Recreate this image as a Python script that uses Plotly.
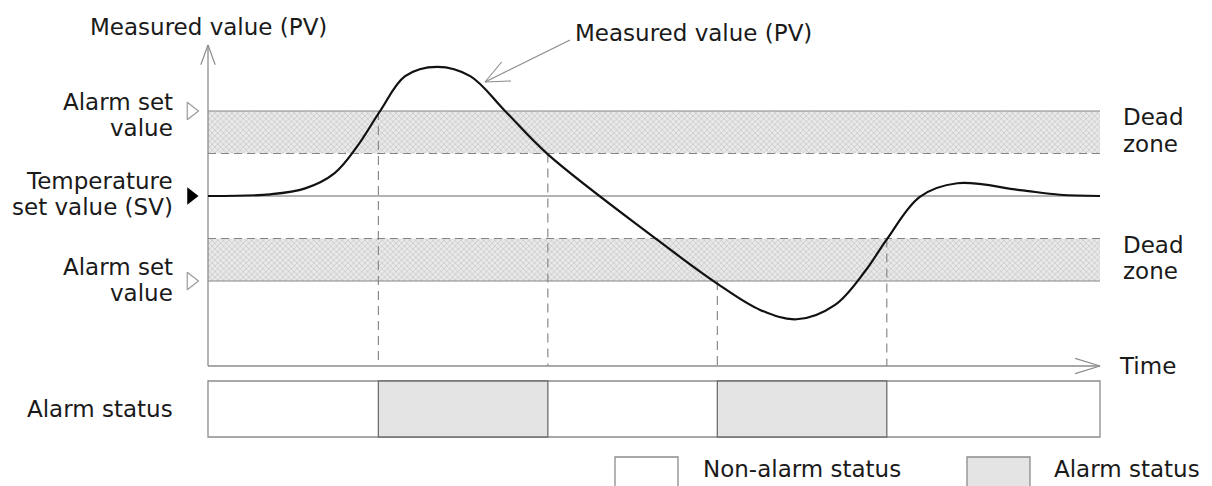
import math
import plotly.graph_objects as go

# ---------------- data ----------------
# time axis: arbitrary units 0..100 ; PV axis: SV = 0, alarm set values = +/-10
TIME = [0, 7.0, 10.9, 14.2, 16.7, 19.3, 22.1, 25.7, 29.4, 33.3, 38.1, 50.3, 56.8,
        61.9, 66.0, 70.3, 73.7, 76.1, 79.8, 84.0, 91.0, 95.5, 100]
PV = [0, 0.2, 0.9, 2.7, 5.8, 10.0, 14.1, 15.2, 14.1, 10.0, 4.9, -5.1, -10.1,
      -13.4, -14.5, -12.8, -8.8, -5.1, -0.1, 1.5, 0.7, 0.15, 0]

SV = 0
ALARM_HIGH = 10
ALARM_LOW = -10
DEAD_ZONE = 5
T_END = 100

ALARM_ON = [19.1, 57.1]       # times at which alarm switches on
ALARM_OFF = [38.1, 76.1]      # times at which alarm switches off
ALARM_ON_LEVEL = [10, -10]
ALARM_OFF_LEVEL = [5, -5]

# ---------------- geometry / style ----------------
W, H = 1212, 486
X0_PX, PX_PER_T = 208, 8.92
Y0_PX, PX_PER_V = 196, 8.5
XR = [(0 - X0_PX) / PX_PER_T, (W - X0_PX) / PX_PER_T]
YR = [(Y0_PX - H) / PX_PER_V, Y0_PX / PX_PER_V]


def px2t(px):
    return (px - X0_PX) / PX_PER_T


def py2v(py):
    return (Y0_PX - py) / PX_PER_V


TIME_AXIS_V = -20
Y_AXIS_TOP = py2v(45)
STATUS_TOP, STATUS_BOT = py2v(381), py2v(437)
LEG_TOP, LEG_BOT = py2v(457), py2v(500)

FONT = "DejaVu Sans"
FS = 23
GRID = "#8c8c8c"

fig = go.Figure()


def line(xs, ys, color=GRID, width=1.2, dash="solid"):
    fig.add_trace(go.Scatter(x=xs, y=ys, mode="lines", hoverinfo="skip",
                             line=dict(color=color, width=width, dash=dash),
                             showlegend=False))


def chevron(tip_t, tip_v, dir_dx, dir_dy, length, half_angle, color=GRID, width=1.2):
    # dir: pixel direction pointing from tip back along the shaft
    n = math.hypot(dir_dx, dir_dy)
    ux, uy = dir_dx / n, dir_dy / n
    pts_x, pts_y = [], []
    for s in (1, -1):
        a = math.radians(half_angle) * s
        rx = ux * math.cos(a) - uy * math.sin(a)
        ry = ux * math.sin(a) + uy * math.cos(a)
        pts_x.append(tip_t + rx * length / PX_PER_T)
        pts_y.append(tip_v - ry * length / PX_PER_V)
    line([pts_x[0], tip_t, pts_x[1]], [pts_y[0], tip_v, pts_y[1]], color=color, width=width)


# dead-zone bands (dotted texture)
for top, bot in [(ALARM_HIGH, ALARM_HIGH - DEAD_ZONE), (ALARM_LOW + DEAD_ZONE, ALARM_LOW)]:
    fig.add_trace(go.Scatter(x=[0, T_END, T_END, 0, 0], y=[top, top, bot, bot, top],
                             mode="lines", fill="toself", line=dict(width=0),
                             fillcolor="rgba(0,0,0,0)",
                             fillpattern=dict(shape="x", size=4, solidity=0.35,
                                              fgcolor="#a8a8a8", bgcolor="#e9e9e9"),
                             hoverinfo="skip", showlegend=False))

# band edges
line([0, T_END], [ALARM_HIGH, ALARM_HIGH], color="#858585", width=1.1)
line([0, T_END], [ALARM_HIGH - DEAD_ZONE] * 2, color="#858585", width=1.1, dash="8px,5px")
line([0, T_END], [ALARM_LOW + DEAD_ZONE] * 2, color="#858585", width=1.1, dash="8px,5px")
line([0, T_END], [ALARM_LOW, ALARM_LOW], color="#858585", width=1.1)

# SV line
line([0, T_END], [SV, SV], color="#b4b4b4", width=2)

# vertical dashed lines at switching instants
for t, lv in zip(ALARM_ON + ALARM_OFF, ALARM_ON_LEVEL + ALARM_OFF_LEVEL):
    line([t, t], [lv, TIME_AXIS_V], color="#808080", width=1.1, dash="9px,6px")

# axes
line([0, 0], [TIME_AXIS_V, Y_AXIS_TOP], color=GRID, width=1.3)
line([0, T_END], [TIME_AXIS_V, TIME_AXIS_V], color=GRID, width=1.3)
chevron(0, Y_AXIS_TOP, 0, 1, 21, 20)
chevron(T_END, TIME_AXIS_V, -1, 0, 26, 17)

# measured value curve
fig.add_trace(go.Scatter(x=TIME, y=PV, mode="lines", hoverinfo="skip",
                         line=dict(color="#111111", width=2.2, shape="spline", smoothing=1.0),
                         showlegend=False))

# callout arrow for PV
tip_t, tip_v = px2t(485), py2v(82)
tail_t, tail_v = px2t(570), py2v(40)
line([tail_t, tip_t], [tail_v, tip_v], color="#8a8a8a", width=1.1)
chevron(tip_t, tip_v, 85, -42, 26, 24, color="#8a8a8a", width=1.1)

# set value markers on the left
mk_t = px2t(191)
fig.add_trace(go.Scatter(x=[mk_t, mk_t], y=[ALARM_HIGH, ALARM_LOW], mode="markers",
                         marker=dict(symbol="triangle-right-open", size=15,
                                     color="#9a9a9a", line=dict(width=1.2, color="#9a9a9a")),
                         hoverinfo="skip", showlegend=False))
fig.add_trace(go.Scatter(x=[mk_t], y=[SV], mode="markers",
                         marker=dict(symbol="triangle-right", size=15, color="#000000"),
                         hoverinfo="skip", showlegend=False))

# alarm status strip
shapes = [dict(type="rect", x0=0, x1=T_END, y0=STATUS_BOT, y1=STATUS_TOP,
               line=dict(color="#8c8c8c", width=1.3), fillcolor="white", layer="below")]
for on, off in zip(ALARM_ON, ALARM_OFF):
    shapes.append(dict(type="rect", x0=on, x1=off, y0=STATUS_BOT, y1=STATUS_TOP,
                       line=dict(color="#6e6e6e", width=1.3), fillcolor="#e4e4e4"))
# legend swatches
shapes.append(dict(type="rect", x0=px2t(615), x1=px2t(678), y0=LEG_BOT, y1=LEG_TOP,
                   line=dict(color="#8c8c8c", width=1.3), fillcolor="white"))
shapes.append(dict(type="rect", x0=px2t(967), x1=px2t(1030), y0=LEG_BOT, y1=LEG_TOP,
                   line=dict(color="#8c8c8c", width=1.3), fillcolor="#e4e4e4"))

tf = dict(family=FONT, size=FS, color="#1a1a1a")
ann = []


def text(s, x, y, xanchor="left"):
    ann.append(dict(text=s, x=x, y=y, xref="x", yref="y", showarrow=False,
                    xanchor=xanchor, yanchor="middle", font=tf))


lx = px2t(175)
text("Measured value (PV)", 0, py2v(27), xanchor="center")
text("Measured value (PV)", px2t(573), py2v(33))
text("Alarm set", lx, py2v(102), xanchor="right")
text("value", lx, py2v(128), xanchor="right")
text("Temperature", lx, py2v(181), xanchor="right")
text("set value (SV)", lx, py2v(207), xanchor="right")
text("Alarm set", lx, py2v(267), xanchor="right")
text("value", lx, py2v(293), xanchor="right")
text("Dead", px2t(1121), py2v(117))
text("zone", px2t(1121), py2v(144))
text("Dead", px2t(1121), py2v(245))
text("zone", px2t(1121), py2v(271))
text("Time", px2t(1117), TIME_AXIS_V)
text("Alarm status", lx, (STATUS_TOP + STATUS_BOT) / 2, xanchor="right")
text("Non-alarm status", px2t(701), py2v(469))
text("Alarm status", px2t(1052), py2v(469))

fig.update_layout(
    width=W, height=H, autosize=False,
    margin=dict(l=0, r=0, t=0, b=0),
    paper_bgcolor="white", plot_bgcolor="white",
    xaxis=dict(range=XR, visible=False, fixedrange=True),
    yaxis=dict(range=YR, visible=False, fixedrange=True),
    shapes=shapes, annotations=ann, showlegend=False,
)

fig.write_html("out.html", config={"displayModeBar": False},
               post_script="document.body.style.margin='0';document.body.style.overflow='hidden';")
